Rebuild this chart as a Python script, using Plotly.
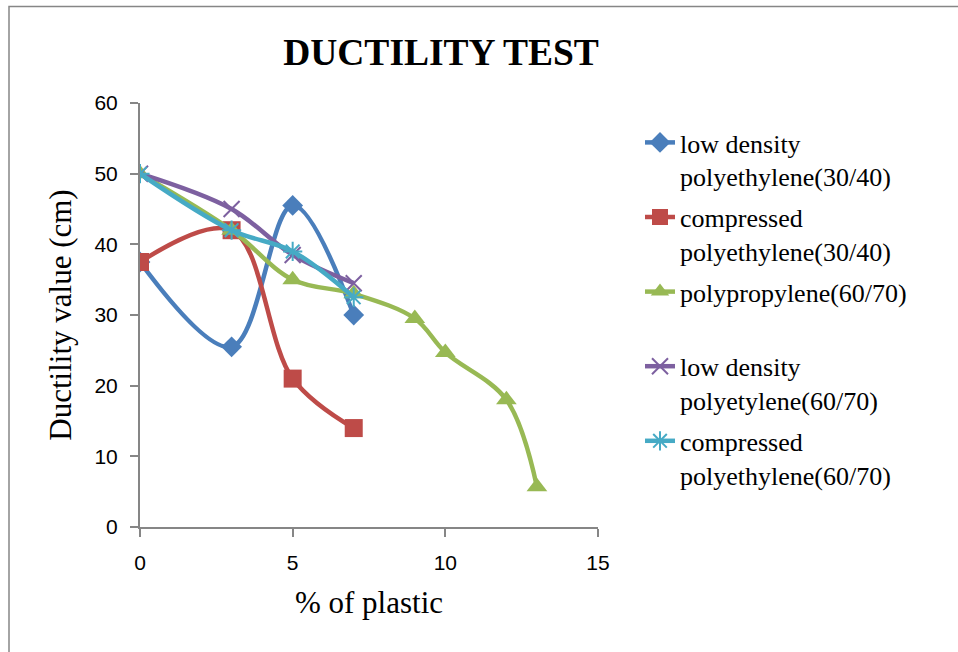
import plotly.graph_objects as go

# Data
x_short = [0, 3, 5, 7]
ldpe_3040 = [37.5, 25.5, 45.5, 30]
cpe_3040 = [37.5, 42, 21, 14]
x_pp = [0, 3, 5, 7, 9, 10, 12, 13]
pp_6070 = [50, 42, 35, 33, 29.5, 24.7, 18, 5.7]
ldpe_6070 = [50, 45, 38.5, 34.5]
cpe_6070 = [50, 42, 39, 32.5]

names = [
    "low density<br>polyethylene(30/40)",
    "compressed<br>polyethylene(30/40)",
    "polypropylene(60/70)<br> ",
    "low density<br>polyetylene(60/70)",
    "compressed<br>polyethylene(60/70)",
]
xs = [x_short, x_short, x_pp, x_short, x_short]
ys = [ldpe_3040, cpe_3040, pp_6070, ldpe_6070, cpe_6070]
colors = ["#4A7EBB", "#BE4B48", "#98B954", "#7D60A0", "#46AAC5"]
symbols = ["diamond", "square", "triangle-up", "x-thin", "asterisk"]
sizes = [16, 18, 18, 16, 16]

fig = go.Figure()
for i in range(5):
    open_sym = symbols[i] in ("x-thin", "asterisk")
    fig.add_trace(go.Scatter(
        x=xs[i], y=ys[i], name=names[i], mode="lines+markers",
        line=dict(color=colors[i], width=4.5, shape="spline", smoothing=1),
        marker=dict(symbol=symbols[i], size=sizes[i], color=colors[i],
                    line=dict(color=colors[i], width=2 if open_sym else 0)),
        legendgroup=str(i),
    ))

W, H = 958, 652
L, R, T, B = 140, 598, 103, 527
pw, ph = R - L, B - T

def px2x(p):
    return (p - L) / pw

def px2y(p):
    return (B - p) / ph

fig.add_shape(type="rect", xref="paper", yref="paper",
              x0=px2x(9), x1=px2x(970), y0=px2y(670), y1=px2y(6.5),
              line=dict(color="#868686", width=1.5), layer="below")

axis_font = dict(family="Liberation Sans, Arial, sans-serif", size=21, color="#000000")
serif = "Liberation Serif, Times New Roman, serif"
fig.update_layout(
    width=W, height=H,
    margin=dict(l=L, r=W - R, t=T, b=H - B),
    paper_bgcolor="white", plot_bgcolor="white",
    title=dict(text="<b>DUCTILITY TEST</b>", x=px2x(441), xref="paper", xanchor="center",
               y=1 - 52 / H, yref="container", yanchor="middle",
               font=dict(family=serif, size=37.5, color="#000000")),
    xaxis=dict(range=[0, 15], tickvals=[0, 5, 10, 15], showgrid=False, zeroline=False,
               showline=True, linecolor="#868686", linewidth=2,
               ticks="outside", ticklen=8, tickwidth=2, tickcolor="#868686",
               tickfont=axis_font, ticklabelstandoff=8,
               title=dict(text="% of plastic", standoff=18,
                          font=dict(family=serif, size=31, color="#000000"))),
    yaxis=dict(range=[0, 60], tickvals=[0, 10, 20, 30, 40, 50, 60], showgrid=False, zeroline=False,
               showline=True, linecolor="#868686", linewidth=2,
               ticks="outside", ticklen=8, tickwidth=2, tickcolor="#868686",
               tickfont=axis_font, ticklabelstandoff=8,
               title=dict(text="Ductility value (cm)", standoff=14,
                          font=dict(family=serif, size=31, color="#000000"))),
    legend=dict(x=px2x(640), y=px2y(119), xanchor="left", yanchor="top",
                font=dict(family=serif, size=26, color="#000000"),
                valign="top", tracegroupgap=4, bgcolor="rgba(0,0,0,0)"),
    showlegend=True,
)

fig.write_html("out.html")
